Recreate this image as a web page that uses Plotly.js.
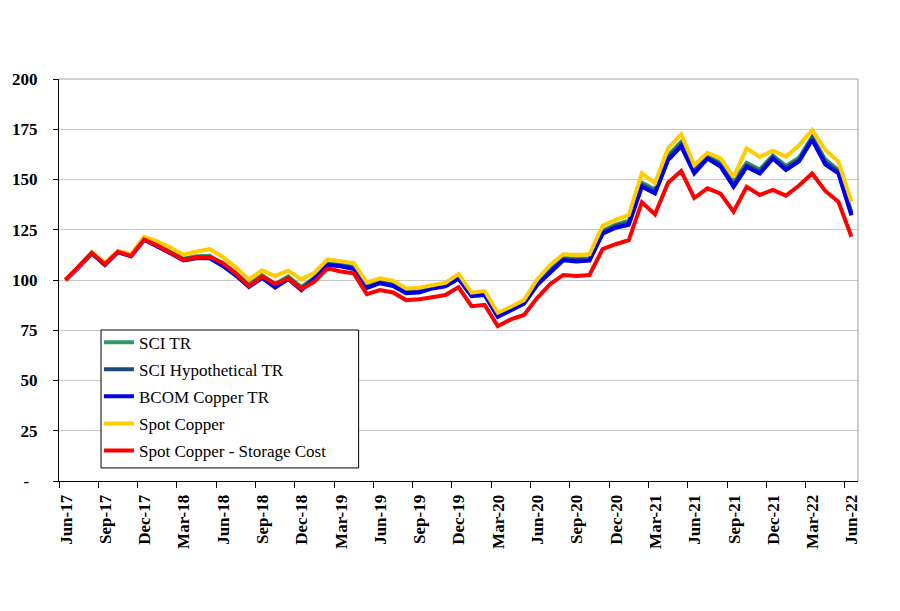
<!DOCTYPE html>
<html>
<head>
<meta charset="utf-8">
<script src="https://cdn.plot.ly/plotly-3.0.1.min.js"></script>
<style>html,body{margin:0;padding:0;background:#fff;}#chart{width:900px;height:611px;}</style>
</head>
<body>
<div id="chart"></div>
<script>
const months = ["Jun-17","Jul-17","Aug-17","Sep-17","Oct-17","Nov-17","Dec-17","Jan-18","Feb-18","Mar-18","Apr-18","May-18",
"Jun-18","Jul-18","Aug-18","Sep-18","Oct-18","Nov-18","Dec-18","Jan-19","Feb-19","Mar-19","Apr-19","May-19",
"Jun-19","Jul-19","Aug-19","Sep-19","Oct-19","Nov-19","Dec-19","Jan-20","Feb-20","Mar-20","Apr-20","May-20",
"Jun-20","Jul-20","Aug-20","Sep-20","Oct-20","Nov-20","Dec-20","Jan-21","Feb-21","Mar-21","Apr-21","May-21",
"Jun-21","Jul-21","Aug-21","Sep-21","Oct-21","Nov-21","Dec-21","Jan-22","Feb-22","Mar-22","Apr-22","May-22","Jun-22"];

const tickLabels = ["Jun-17","Sep-17","Dec-17","Mar-18","Jun-18","Sep-18","Dec-18","Mar-19","Jun-19","Sep-19","Dec-19",
"Mar-20","Jun-20","Sep-20","Dec-20","Mar-21","Jun-21","Sep-21","Dec-21","Mar-22","Jun-22"];

const yTickVals = [0,25,50,75,100,125,150,175,200];
const yTickText = ["-\u00a0\u00a0","25","50","75","100","125","150","175","200"];

const sciTR = [100,106.4,113.5,108,114.2,112.2,120.6,117.6,114.2,110.6,111.8,112,
108.2,103.4,97.8,102.4,98,101.8,96.5,101.2,108.2,107.6,106.6,96.8,
99.2,97.8,94.2,94.6,96.4,97.4,101.4,92.6,93,82.2,85.4,88.8,
98.4,105.3,111,110.6,110.8,124.5,127.6,129.5,148.5,145,162,168.8,
155.4,161.8,158.3,149,158.3,155,162,156.8,160.8,171.2,160,154.8,133.5];

const sciHypTR = [100,106.3,113.4,107.7,114,112,120.3,117.2,113.7,110.2,111.2,111.3,
107.5,102.7,97,101.6,97,101,95.6,100.8,107.8,107.1,106,96.3,
98.7,97.4,93.8,94.2,96.1,97.1,101,92.3,92.7,81.9,85.1,88.5,
98,104.6,110.4,109.9,110.2,123.7,126.8,128.4,147.4,144,160.8,167.6,
154.2,161,157.4,147.6,157.2,154,161.2,155.7,159.9,170.5,158.8,153.9,132.8];

const bcomTR = [100,106.2,113.3,107.5,113.8,111.8,120,116.8,113.3,109.8,110.8,110.8,
107,102.2,96.5,101,96.2,100.5,95,100.5,107.5,106.8,105.5,96,
98.4,97,93.4,93.8,95.8,96.8,100.6,92,92.5,81.6,84.8,88.2,
97.5,104,109.8,109.2,109.6,123,126,127.5,146.4,143,159.7,166.5,
153,160.4,156.5,146.3,156.2,153,160.4,154.7,159,169.8,157.5,153,132.2];

const spotCopper = [100,106.5,113.8,108.5,114.6,112.8,121.5,119.2,116.2,112.6,114.2,115.4,
111.5,106.3,100.3,104.8,102,104.6,100.3,103.6,110.3,109.3,108.4,98.7,
100.8,99.7,95.8,96.2,97.4,98.6,103,93.7,94.5,83.7,86.7,90,
100.3,107.5,112.8,112.4,112.8,127,129.9,132.3,153.1,148.1,165.5,172.5,
157.2,163.3,160.5,151.2,165.5,161.2,164.3,161.4,167,174.6,164.7,158.9,139];

const spotStorage = [100,106.5,113.5,107.8,114,112,120.2,117.2,113.8,110,111.2,111.6,
108.5,103.3,97,101.8,98,100.8,95.5,99.2,105.8,104.2,103.3,93,
95,93.8,90,90.4,91.4,92.5,96.4,87,87.6,77,80.4,82.6,
91,98,102.5,102,102.5,115.4,117.8,119.8,138.7,132.7,148.4,154.2,
140.8,145.6,143,134,146.4,142.3,144.8,142,147,153,144.3,139,121.5];

const seriesNames = ["SCI TR","SCI Hypothetical TR","BCOM Copper TR","Spot Copper","Spot Copper - Storage Cost"];
const seriesColors = ["#339966","#1F497D","#0000E6","#FFCC00","#FF0000"];
const seriesData = [sciTR, sciHypTR, bcomTR, spotCopper, spotStorage];

const xIdx = months.map((m, i) => i);
const tickIdx = tickLabels.map(t => months.indexOf(t));

const traces = seriesData.map((d, k) => ({
  x: xIdx, y: d, type: "scatter", mode: "lines",
  name: seriesNames[k], legendgroup: "g" + k,
  line: {color: seriesColors[k], width: 4},
  text: months, hoverinfo: "text+y+name"
}));

const serif = "Liberation Serif, Times New Roman, serif";

const layout = {
  width: 900, height: 611,
  margin: {l: 59, r: 42, t: 79, b: 130},
  paper_bgcolor: "#fff", plot_bgcolor: "#fff",
  showlegend: true,
  legend: {
    x: 0.05, y: 0.389, xanchor: "left", yanchor: "top",
    bgcolor: "rgba(0,0,0,0)", borderwidth: 0,
    font: {family: serif, size: 17, color: "#000"},
    itemwidth: 30, traceorder: "grouped", tracegroupgap: 2
  },
  xaxis: {
    range: [-0.5, 60.5],
    tickmode: "array",
    tickvals: tickIdx.map(v => v - 0.5),
    ticktext: tickLabels,
    ticklabelshift: 7,
    tickangle: -90,
    ticks: "outside", ticklen: 6, tickcolor: "#000", tickwidth: 1,
    showgrid: false, zeroline: false,
    showline: true, linecolor: "#000", linewidth: 1,
    tickfont: {family: serif, size: 17, color: "#000", weight: "bold"}
  },
  yaxis: {
    range: [0, 200],
    tickmode: "array", tickvals: yTickVals, ticktext: yTickText,
    ticks: "outside", ticklen: 5, tickcolor: "#000", tickwidth: 1,
    ticklabelstandoff: 12,
    showgrid: true, gridcolor: "#C8C8C8", gridwidth: 1,
    zeroline: false,
    showline: true, linecolor: "#000", linewidth: 1,
    tickfont: {family: serif, size: 17, color: "#000", weight: "bold"}
  },
  shapes: [
    {type: "line", xref: "paper", yref: "paper", x0: 1, x1: 1, y0: 0, y1: 1,
     line: {color: "#A0A0A0", width: 1}},
    {type: "line", xref: "paper", yref: "paper", x0: 0, x1: 1, y0: 1, y1: 1,
     line: {color: "#A0A0A0", width: 1}},
    {type: "rect", xref: "paper", yref: "paper", layer: "above",
     x0: 0.0526, x1: 0.375, y0: 0.0325, y1: 0.3756,
     fillcolor: "#fff", line: {color: "#000", width: 1}}
  ]
};

Plotly.newPlot("chart", traces, layout, {displayModeBar: false, staticPlot: true});
</script>
</body>
</html>
